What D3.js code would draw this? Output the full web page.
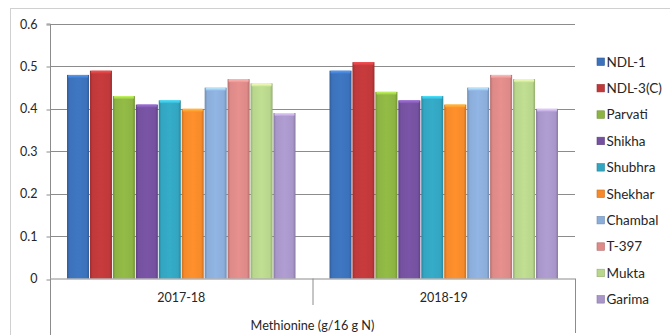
<!DOCTYPE html>
<html>
<head>
<meta charset="utf-8">
<script src="https://cdn.jsdelivr.net/npm/d3@7"></script>
<style>
  html, body { margin: 0; padding: 0; background: #fff; }
  svg { display: block; font-family: Lato, "Open Sans", sans-serif; }
</style>
</head>
<body>
<svg id="chart" width="670" height="335"></svg>
<script>
// Methionine content (g/16 g N) of varieties over two seasons
const seasons = ["2017-18", "2018-19"];
const varieties = ["NDL-1", "NDL-3(C)", "Parvati", "Shikha", "Shubhra", "Shekhar", "Chambal", "T-397", "Mukta", "Garima"];
const values2017 = [0.48, 0.49, 0.43, 0.41, 0.42, 0.40, 0.45, 0.47, 0.46, 0.39];
const values2018 = [0.49, 0.51, 0.44, 0.42, 0.43, 0.41, 0.45, 0.48, 0.47, 0.40];
const yTicks = [0, 0.1, 0.2, 0.3, 0.4, 0.5, 0.6];
const colors = ["#3c72bb", "#c0393a", "#8db443", "#7551a0", "#33a5c1", "#f68a2a", "#8badda", "#dd8a88", "#b8d68c", "#a996c9"];
const axisTitle = "Methionine (g/16 g N)";

const seriesBySeason = [values2017, values2018];

const svg = d3.select("#chart");

// outer chart frame
svg.append("rect").attr("x", 10.5).attr("y", 8.5).attr("width", 680).attr("height", 340)
  .attr("fill", "none").attr("stroke", "#d0d0d0");

const plot = { left: 50, right: 575, top: 24, bottom: 278.5 };

const y = d3.scaleLinear().domain([0, 0.6]).range([plot.bottom, plot.top]);
const x0 = d3.scaleBand().domain(seasons).range([plot.left, plot.right]).padding(0);
const x1 = d3.scaleBand().domain(varieties)
  .range([17, x0.bandwidth() - 17]).paddingInner(0.04);

// gradients for the bevelled bars
const defs = svg.append("defs");
colors.forEach((c, i) => {
  const g = defs.append("linearGradient").attr("id", "bar" + i)
    .attr("x1", "0").attr("x2", "1").attr("y1", "0").attr("y2", "0");
  const dark = d3.color(c).darker(0.6);
  const light = d3.color(c).brighter(0.12);
  g.append("stop").attr("offset", "0%").attr("stop-color", dark);
  g.append("stop").attr("offset", "12%").attr("stop-color", c);
  g.append("stop").attr("offset", "50%").attr("stop-color", light);
  g.append("stop").attr("offset", "88%").attr("stop-color", c);
  g.append("stop").attr("offset", "100%").attr("stop-color", dark);
  const t = defs.append("linearGradient").attr("id", "cap" + i)
    .attr("x1", "0").attr("x2", "0").attr("y1", "0").attr("y2", "1");
  t.append("stop").attr("offset", "0%").attr("stop-color", d3.color(c).brighter(0.9));
  t.append("stop").attr("offset", "100%").attr("stop-color", d3.color(c).brighter(0.2));
});

// gridlines
svg.append("g").selectAll("line").data(yTicks.slice(1)).join("line")
  .attr("x1", plot.left).attr("x2", plot.right)
  .attr("y1", d => Math.round(y(d)) + 0.5).attr("y2", d => Math.round(y(d)) + 0.5)
  .attr("stroke", "#8c8c8c").attr("stroke-width", 1);

// y axis
const yAxis = d3.axisLeft(y).tickValues(yTicks).tickSize(4).tickPadding(9)
  .tickFormat(d => d === 0 ? "0" : d3.format(".1f")(d));
const ya = svg.append("g").attr("transform", `translate(${plot.left + 0.5},0)`).call(yAxis);
ya.select(".domain").attr("stroke", "#8c8c8c").attr("d", `M-4,${y(0.6)}H0V${plot.bottom}`);
ya.selectAll(".tick line").attr("stroke", "#8c8c8c")
  .attr("transform", d => `translate(0,${Math.round(y(d)) + 0.5 - y(d)})`);
ya.selectAll("text").attr("font-size", 12.5).attr("fill", "#262626")
  .attr("text-anchor", "end").attr("x", -13)
  .attr("font-family", "Lato, 'Open Sans', sans-serif");

// bars
const groups = svg.append("g").selectAll("g").data(seasons).join("g")
  .attr("transform", d => `translate(${x0(d)},0)`);

groups.each(function (season, si) {
  const g = d3.select(this);
  const vals = seriesBySeason[si];
  const data = varieties.map((v, i) => ({ v, i, val: vals[i] }));
  g.selectAll("rect.bar").data(data).join("rect").attr("class", "bar")
    .attr("x", d => x1(d.v)).attr("width", x1.bandwidth())
    .attr("y", d => y(d.val)).attr("height", d => plot.bottom - y(d.val))
    .attr("fill", d => `url(#bar${d.i})`);
  g.selectAll("rect.cap").data(data).join("rect").attr("class", "cap")
    .attr("x", d => x1(d.v) + 1).attr("width", x1.bandwidth() - 2)
    .attr("y", d => y(d.val)).attr("height", 3)
    .attr("rx", 1)
    .attr("fill", d => `url(#cap${d.i})`);
});

// category axis with table-style separators
const xa = svg.append("g").attr("stroke", "#8c8c8c").attr("fill", "none");
xa.append("line").attr("x1", plot.left).attr("x2", plot.right)
  .attr("y1", plot.bottom + 0.5).attr("y2", plot.bottom + 0.5);
xa.append("line").attr("x1", plot.left + 0.5).attr("x2", plot.left + 0.5)
  .attr("y1", plot.bottom).attr("y2", 335);
xa.append("line").attr("x1", plot.right + 0.5).attr("x2", plot.right + 0.5)
  .attr("y1", plot.bottom).attr("y2", 333);
xa.append("line").attr("x1", x0(seasons[1]) + 0.5).attr("x2", x0(seasons[1]) + 0.5)
  .attr("y1", plot.bottom).attr("y2", 305);

svg.append("g").selectAll("text").data(seasons).join("text")
  .attr("x", d => x0(d) + x0.bandwidth() / 2).attr("y", 301.5)
  .attr("text-anchor", "middle").attr("font-size", 12.5).attr("fill", "#262626")
  .text(d => d);

svg.append("text").attr("x", (plot.left + plot.right) / 2).attr("y", 329.5)
  .attr("text-anchor", "middle").attr("font-size", 12.7).attr("fill", "#262626")
  .text(axisTitle);

// legend
const legend = svg.append("g").attr("transform", "translate(597,62)");
const li = legend.selectAll("g").data(varieties).join("g")
  .attr("transform", (d, i) => `translate(0,${i * 26.4})`);
li.append("rect").attr("x", 0).attr("y", -4).attr("width", 7.5).attr("height", 7.5)
  .attr("fill", (d, i) => colors[i])
  .attr("stroke", (d, i) => d3.color(colors[i]).darker(0.6)).attr("stroke-width", 0.6);
li.append("text").attr("x", 9.5).attr("y", 4.5).attr("font-size", 13.5).attr("fill", "#262626")
  .text(d => d);
</script>
</body>
</html>
